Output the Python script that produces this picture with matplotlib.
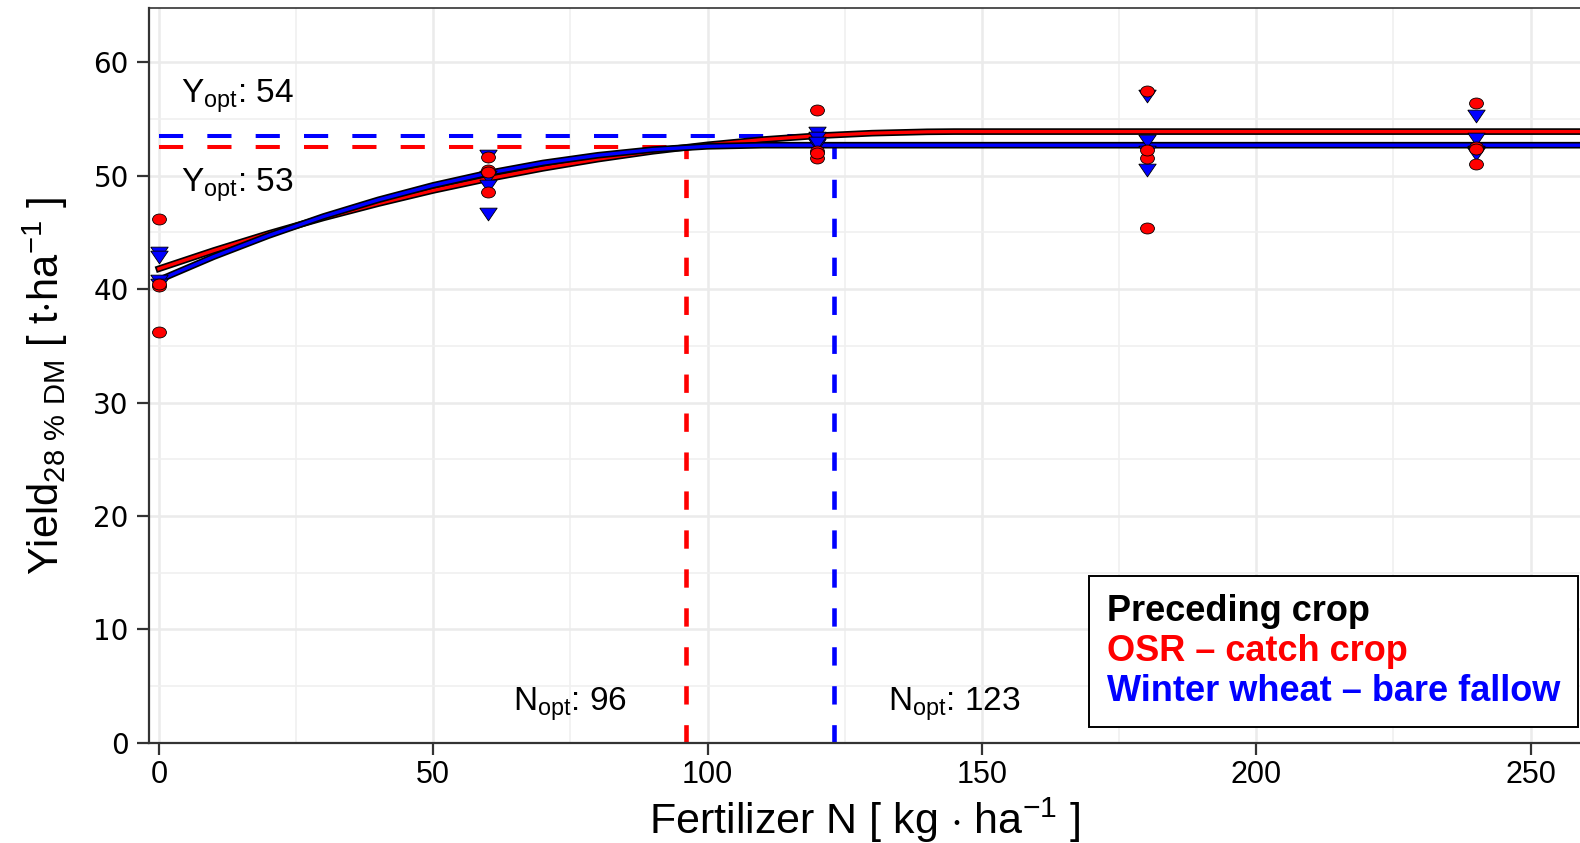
import matplotlib
matplotlib.use("Agg")
import matplotlib.pyplot as plt
import matplotlib.patheffects as pe
from matplotlib.path import Path
from matplotlib.ticker import MultipleLocator

plt.rcParams["mathtext.fontset"] = "custom"
plt.rcParams["mathtext.rm"] = "Liberation Sans"
plt.rcParams["mathtext.sf"] = "Liberation Sans"
plt.rcParams["font.family"] = ["Liberation Sans", "DejaVu Sans"]

# observed yields per N rate (plots per rate)
n_rates = [0, 60, 120, 180, 240]
osr_yield = [[46.2, 40.3, 36.2, 40.5],
             [51.7, 50.5, 48.6, 50.3],
             [55.8, 52.2, 51.6, 52.0],
             [57.5, 51.6, 45.4, 52.3],
             [56.4, 52.5, 51.0, 52.4]]
ww_yield = [[43.3, 42.9, 40.8, 40.5],
            [51.8, 50.0, 49.2, 46.7],
            [53.9, 53.4, 52.8, 53.0],
            [57.1, 53.2, 52.2, 50.6],
            [55.4, 53.3, 52.2, 52.0]]

# fitted response curves
osr_curve_n = [0, 10, 20, 30, 40, 50, 60, 70, 80, 90, 100, 110, 120, 130, 140, 145, 260]
osr_curve_y = [41.8, 43.41, 44.91, 46.29, 47.55, 48.71, 49.74, 50.66, 51.47, 52.16,
               52.73, 53.19, 53.53, 53.76, 53.88, 53.9, 53.9]
ww_curve_n = [0, 10, 20, 30, 40, 50, 60, 70, 80, 90, 100, 110, 260]
ww_curve_y = [40.8, 42.87, 44.73, 46.41, 47.88, 49.16, 50.24, 51.13, 51.81, 52.31,
              52.60, 52.7, 52.7]

# optimum N and yield levels
osr_nopt, ww_nopt = 96, 123
osr_yline, ww_yline = 52.5, 53.5
osr_vtop, ww_vtop = 52.5, 52.7

y_ticks = [0, 10, 20, 30, 40, 50, 60]

RED, BLUE = "#FF0000", "#0000FF"

# slightly flattened markers like the original
ellipse = Path.unit_circle().transformed(matplotlib.transforms.Affine2D().scale(1.27, 1.0))
tri_down = [(-0.68, 0.42), (0.68, 0.42), (0.0, -0.58), (-0.68, 0.42)]

fig = plt.figure(figsize=(15.8, 8.43), dpi=100)
ax = fig.add_axes([149 / 1580, 1 - 742.7 / 843, 1431 / 1580, 734.7 / 843])

ax.set_xlim(-1.8, 259)
ax.set_ylim(0, 64.8)
ax.xaxis.set_major_locator(MultipleLocator(50))
ax.xaxis.set_minor_locator(MultipleLocator(25))
ax.set_yticks(y_ticks, [str(v) for v in y_ticks], fontfamily="DejaVu Sans", fontsize=20)
ax.yaxis.set_minor_locator(MultipleLocator(5))
ax.grid(which="major", color="#EBEBEB", lw=1.8)
ax.grid(which="minor", color="#F0F0F0", lw=1.2)
ax.set_axisbelow(True)

for s in ["left", "bottom", "top"]:
    ax.spines[s].set_color("#333333")
    ax.spines[s].set_linewidth(1.6)
ax.spines["top"].set_linewidth(1.2)
ax.spines["right"].set_visible(False)
ax.tick_params(which="major", length=8.5, width=1.6, color="#333333")
ax.tick_params(which="minor", length=0)
ax.tick_params(axis="y", pad=6)
ax.tick_params(axis="x", labelsize=22, pad=4)

# optimum guide lines
ax.plot([0, osr_nopt], [osr_yline, osr_yline], color=RED, lw=2.9, ls=(0, (6, 6)), zorder=2)
ax.plot([0, ww_nopt], [ww_yline, ww_yline], color=BLUE, lw=2.9, ls=(0, (6, 6)), zorder=2)
ax.plot([osr_nopt, osr_nopt], [0, osr_vtop], color=RED, lw=3.3, ls=(0, (4, 4.5)), zorder=2)
ax.plot([ww_nopt, ww_nopt], [0, ww_vtop], color=BLUE, lw=3.3, ls=(0, (4, 4.5)), zorder=2)

# fitted curves with black outline
outline = [pe.Stroke(linewidth=4.8, foreground="black"), pe.Normal()]
ax.plot(osr_curve_n, osr_curve_y, color=RED, lw=2.4, zorder=3, path_effects=outline)
ax.plot(ww_curve_n, ww_curve_y, color=BLUE, lw=2.4, zorder=3, path_effects=outline)

# observations
for n, ys in zip(n_rates, ww_yield):
    ax.scatter([n] * len(ys), ys, marker=tri_down, s=12.5 ** 2, c=BLUE,
               edgecolors="black", linewidths=0.6, zorder=4, clip_on=False)
for n, ys in zip(n_rates, osr_yield):
    ax.scatter([n] * len(ys), ys, marker=ellipse, s=10 ** 2, c=RED,
               edgecolors="black", linewidths=0.6, zorder=5, clip_on=False)

# annotations
ax.text(4, 57.0, r"Y$_{\mathrm{opt}}$: 54", fontsize=24, va="center")
ax.text(4, 49.2, r"Y$_{\mathrm{opt}}$: 53", fontsize=24, va="center")
ax.text(75, 3.4, r"N$_{\mathrm{opt}}$: 96", fontsize=24, ha="center", va="center")
ax.text(145, 3.4, r"N$_{\mathrm{opt}}$: 123", fontsize=24, ha="center", va="center")

ax.set_xlabel(r"Fertilizer N [ kg $\cdot$ ha$^{-1}$ ]", fontsize=31, labelpad=4)
ax.set_ylabel(r"Yield$_{28\ \%\ \mathrm{DM}}$ [ t$\cdot$ha$^{-1}$ ]", fontsize=30)
ax.yaxis.set_label_coords(-0.055, 0.485)

# legend box
blank = [plt.Line2D([], [], lw=0) for _ in range(2)]
leg = ax.legend(blank, ["OSR \u2013 catch crop", "Winter wheat \u2013 bare fallow"],
                title="Preceding crop", loc="lower right", bbox_to_anchor=(0.9986, 0.0207),
                borderaxespad=0, handlelength=0, handletextpad=0, fancybox=False,
                framealpha=1, edgecolor="black", alignment="left",
                prop={"weight": "bold", "size": 26},
                title_fontproperties={"weight": "bold", "size": 26},
                labelspacing=0.15, borderpad=0.5)
leg.get_frame().set_linewidth(1.4)
leg.get_texts()[0].set_color(RED)
leg.get_texts()[1].set_color(BLUE)

fig.savefig("out.png", dpi=100)
